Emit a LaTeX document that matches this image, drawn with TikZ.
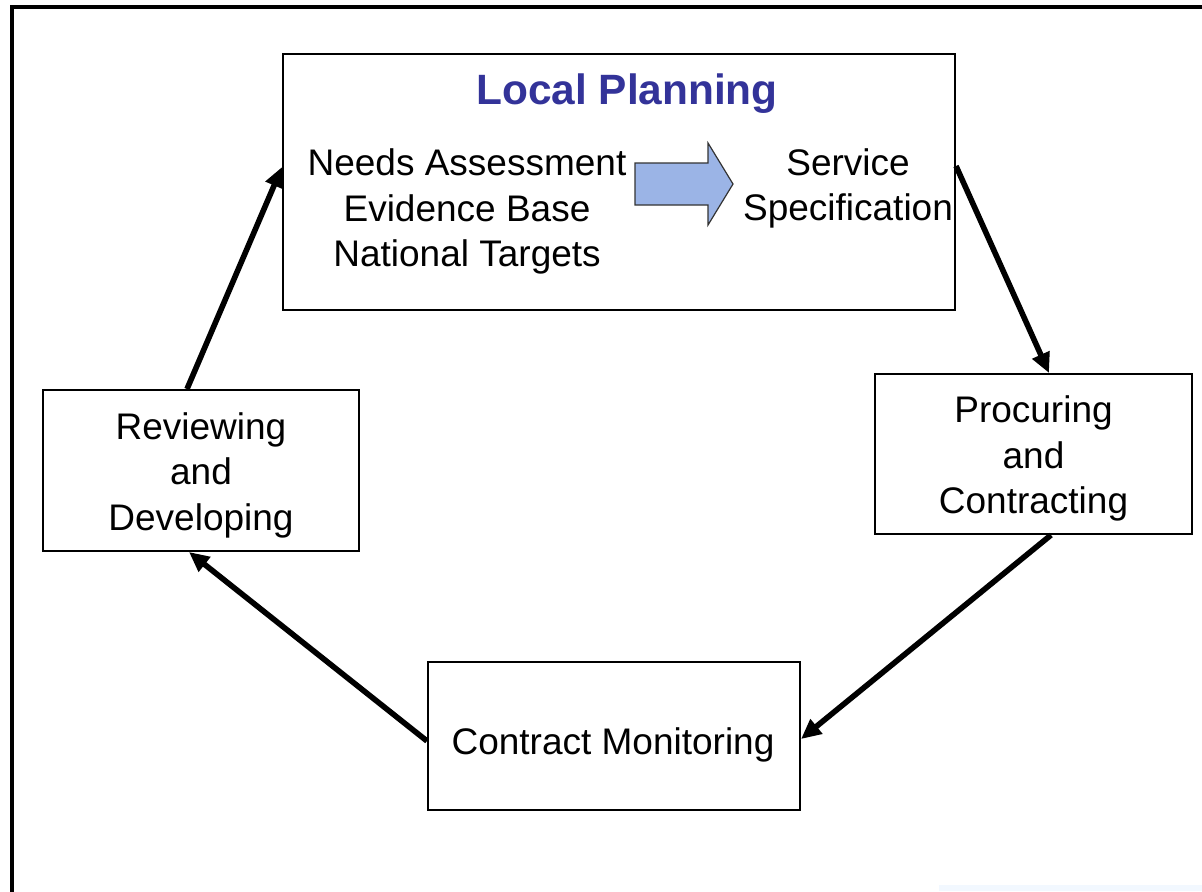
\documentclass[tikz,border=0pt]{standalone}
\usepackage{fontspec}
\setmainfont{Liberation Sans}
\usetikzlibrary{arrows.meta,calc}
\definecolor{titleblue}{RGB}{51,51,153}
\definecolor{arrowfill}{RGB}{155,180,230}
\definecolor{faintblue}{RGB}{242,248,255}
\tikzset{
  stagebox/.style={draw=black, line width=1pt, inner sep=0pt},
  plaintext/.style={align=center, inner sep=0pt, font=\fontsize{18.5}{22.75}\selectfont},
  cyclearrow/.style={line width=2.8pt, -{Triangle[length=10pt,width=9pt]}},
}
\begin{document}
\begin{tikzpicture}[x=0.5pt,y=-0.5pt]
\useasboundingbox (0,0) rectangle (1202,891);
\clip (0,0) rectangle (1202,891);
\fill[white] (0,0) rectangle (1202,891);
% outer frame (left and top visible)
\draw[line width=2pt] (12,900) -- (12,7) -- (1215,7);
% faint strip at bottom right
\fill[faintblue] (939,885) rectangle (1202,891);

% boxes
\node[stagebox, minimum width=336pt, minimum height=128pt] (lp) at (619,182) {};
\node[stagebox, minimum width=158pt, minimum height=80.5pt] (rd) at (201,470.5) {};
\node[stagebox, minimum width=158.5pt, minimum height=80pt] (pc) at (1033.5,454) {};
\node[stagebox, minimum width=186pt, minimum height=74pt] (cm) at (614,736) {};

% box texts
\node[plaintext] (rdtext) at ($(rd.center)+(0,4.5)$) {Reviewing\\and\\Developing};
\node[plaintext] (pctext) at ($(pc.center)+(0,4.5)$) {Procuring\\and\\Contracting};
\node[plaintext] (cmtext) at (613,745) {Contract Monitoring};

% contents of the Local Planning box
\node[font=\bfseries\fontsize{21.2}{25}\selectfont, text=titleblue, inner sep=0pt] (title) at (627,94) {Local Planning};
\node[plaintext] (needs) at (467,211.5) {Needs Assessment\\Evidence Base\\National Targets};
\node[plaintext] (spec) at (848,188.5) {Service\\Specification};

% block arrow
\filldraw[fill=arrowfill, draw=black!80, line width=0.6pt]
  (635,163) -- (708,163) -- (708,143) -- (733,184) -- (708,225) -- (708,205) -- (635,205) -- cycle;

% cycle arrows
\draw[cyclearrow] ($(lp.north east)+(0,113)$) -- ($(pc.north west)+(175,0)$);
\draw[cyclearrow] ($(pc.south west)+(177,0)$) -- ($(cm.north east)+(0,78)$);
\draw[cyclearrow] ($(cm.north west)+(0,80)$) -- ($(rd.south west)+(147,0)$);
\draw[cyclearrow] ($(rd.north west)+(145,0)$) -- ($(lp.north west)+(0,114)$);
\end{tikzpicture}
\end{document}
